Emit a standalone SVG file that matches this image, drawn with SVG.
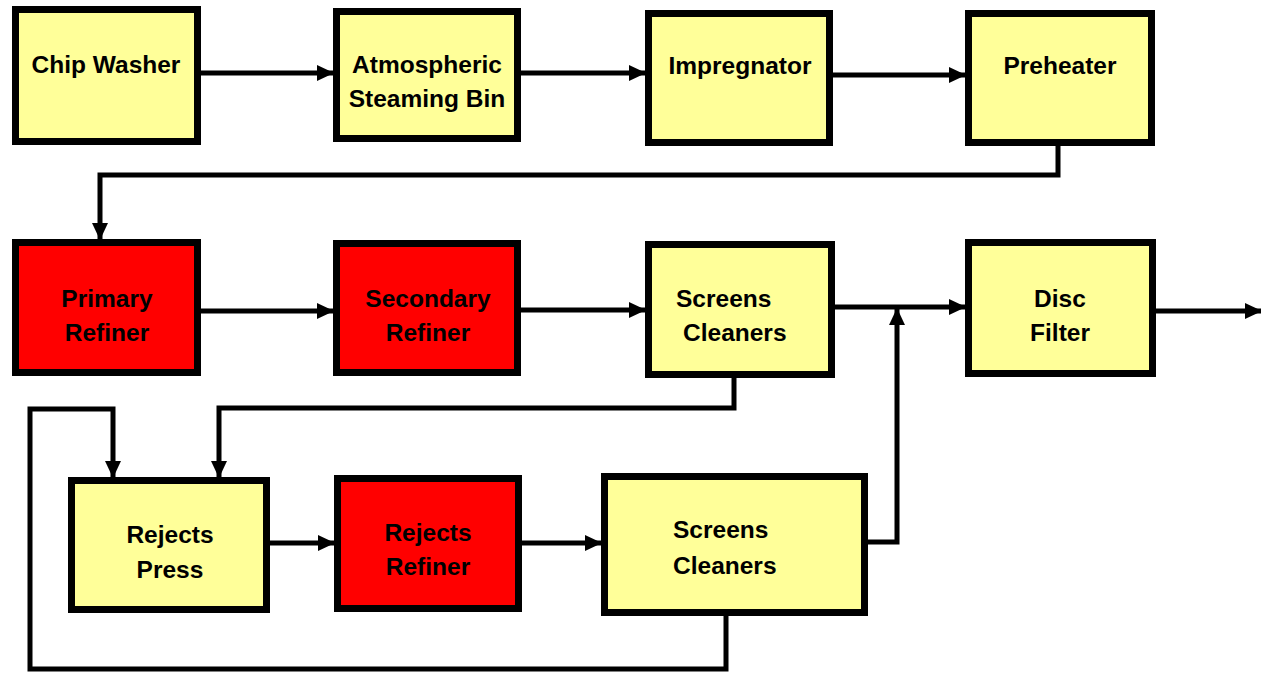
<svg xmlns="http://www.w3.org/2000/svg" width="1261" height="673" viewBox="0 0 1261 673">
<style>
.y{fill:#FFFF99;stroke:#000;stroke-width:7}
.r{fill:#FF0000;stroke:#000;stroke-width:7}
text{font-family:"Liberation Sans",Arial,sans-serif;font-weight:bold;font-size:24.5px;fill:#000}
.c{text-anchor:middle}
.ln{fill:none;stroke:#000;stroke-width:5;stroke-linejoin:miter;stroke-linecap:butt}
</style>
<defs>
<marker id="ah" markerWidth="17" markerHeight="16" refX="16" refY="8" orient="auto" markerUnits="userSpaceOnUse">
<path d="M0,0 L17,8 L0,16 Z" fill="#000"/>
</marker>
</defs>
<rect width="1261" height="673" fill="#fff"/>
<g id="connectors">
<path class="ln" d="M201,73 H333" marker-end="url(#ah)"/>
<path class="ln" d="M521,73 H645" marker-end="url(#ah)"/>
<path class="ln" d="M833,75 H965" marker-end="url(#ah)"/>
<path class="ln" d="M1058,146 V175 H100 V239" marker-end="url(#ah)"/>
<path class="ln" d="M201,311 H333" marker-end="url(#ah)"/>
<path class="ln" d="M521,310 H645" marker-end="url(#ah)"/>
<path class="ln" d="M835,307 H965" marker-end="url(#ah)"/>
<path class="ln" d="M1156,311 H1261" marker-end="url(#ah)"/>
<path class="ln" d="M868,542 H897 V309" marker-end="url(#ah)"/>
<path class="ln" d="M734,378 V408 H219 V477" marker-end="url(#ah)"/>
<path class="ln" d="M726,616 V669 H30 V409 H113 V477" marker-end="url(#ah)"/>
<path class="ln" d="M270,543 H334" marker-end="url(#ah)"/>
<path class="ln" d="M522,543 H601" marker-end="url(#ah)"/>
</g>
<g id="chip-washer"><rect class="y" x="15.5" y="9.5" width="182" height="132"/><text class="c" x="106" y="73">Chip Washer</text></g>
<g id="steaming-bin"><rect class="y" x="336.5" y="11.5" width="181" height="127"/><text class="c" x="427" y="73">Atmospheric</text><text class="c" x="427" y="107">Steaming Bin</text></g>
<g id="impregnator"><rect class="y" x="648.5" y="13.5" width="181" height="129"/><text class="c" x="740" y="74">Impregnator</text></g>
<g id="preheater"><rect class="y" x="968.5" y="13.5" width="183" height="129"/><text class="c" x="1060" y="74">Preheater</text></g>
<g id="primary-refiner"><rect class="r" x="15.5" y="242.5" width="182" height="130"/><text class="c" x="107" y="307">Primary</text><text class="c" x="107" y="341">Refiner</text></g>
<g id="secondary-refiner"><rect class="r" x="336.5" y="243.5" width="181" height="129"/><text class="c" x="428" y="307">Secondary</text><text class="c" x="428" y="341">Refiner</text></g>
<g id="screens-cleaners-1"><rect class="y" x="648.5" y="244.5" width="183" height="130"/><text x="676" y="307">Screens</text><text x="683" y="341">Cleaners</text></g>
<g id="disc-filter"><rect class="y" x="968.5" y="242.5" width="184" height="131"/><text class="c" x="1060" y="307">Disc</text><text class="c" x="1060" y="341">Filter</text></g>
<g id="rejects-press"><rect class="y" x="71.5" y="480.5" width="195" height="129"/><text class="c" x="170" y="543">Rejects</text><text class="c" x="170" y="578">Press</text></g>
<g id="rejects-refiner"><rect class="r" x="337.5" y="478.5" width="181" height="130"/><text class="c" x="428" y="541">Rejects</text><text class="c" x="428" y="575">Refiner</text></g>
<g id="screens-cleaners-2"><rect class="y" x="604.5" y="476.5" width="260" height="136"/><text x="673" y="538">Screens</text><text x="673" y="574">Cleaners</text></g>
</svg>
